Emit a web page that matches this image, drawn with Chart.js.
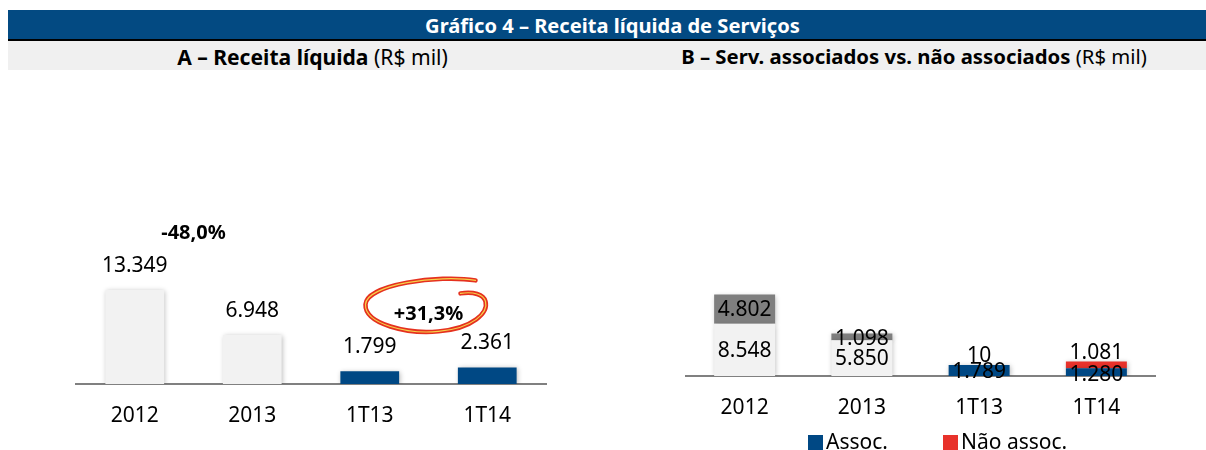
<!DOCTYPE html>
<html>
<head>
<meta charset="utf-8">
<script src="https://cdn.jsdelivr.net/npm/chart.js@4.4.1/dist/chart.umd.min.js"></script>
<style>
html,body{margin:0;padding:0;background:#fff;width:1206px;height:450px;overflow:hidden;font-family:'Noto Sans',sans-serif;}
#bar{position:absolute;left:8px;top:10px;width:1198px;height:29px;background:#034a82;}
#rule{position:absolute;left:8px;top:39px;width:1198px;height:2px;background:#000;}
#sub{position:absolute;left:8px;top:41px;width:1198px;height:29px;background:#f0f0f0;}
.t{position:absolute;white-space:nowrap;line-height:1;font-family:'Noto Sans',sans-serif;color:#000;}
#title{color:#fff;font-weight:bold;}
.b{font-weight:bold;}
#c1{position:absolute;left:0;top:80px;}
#c2{position:absolute;left:600px;top:80px;}
.lg{position:absolute;font:21px 'Noto Sans',sans-serif;color:#000;line-height:1;white-space:nowrap;}
.sq{position:absolute;width:15px;height:15px;}
</style>
</head>
<body>
<div id="bar"></div><div id="rule"></div><div id="sub"></div>
<div class="t" id="title">Gráfico 4 – Receita líquida de Serviços</div>
<div class="t" id="subA"><span class="b">A – Receita líquida</span> (R$ mil)</div>
<div class="t" id="subB"><span class="b">B – Serv. associados vs. não associados</span> (R$ mil)</div>
<canvas id="c1" width="600" height="370"></canvas>
<canvas id="c2" width="606" height="370"></canvas>
<div class="sq" id="sq1" style="left:808px;top:435px;background:#004884"></div>
<div class="lg" id="lg1" style="left:826px;">Assoc.</div>
<div class="sq" id="sq2" style="left:943px;top:435px;background:#e8322b"></div>
<div class="lg" id="lg2" style="left:961px;">Não assoc.</div>
<script>
// ---------- data ----------
const categories = ['2012', '2013', '1T13', '1T14'];
const receita = [13349, 6948, 1799, 2361];
const variacoes = ['-48,0%', '+31,3%'];
const assoc = [8548, 5850, 1789, 1280];
const naoAssoc = [4802, 1098, 10, 1081];
const legendLabels = ['Assoc.', 'Não assoc.'];

// ---------- styles ----------
const BLUE = '#004884', RED = '#e8322b', LIGHT = '#f2f2f2', DARK = '#7f7f7f';
const FONT = "'Noto Sans', sans-serif";

// header fitting
function place(id, cx, cy, w) {
  const el = document.getElementById(id);
  el.style.fontSize = '18px';
  const r = el.getBoundingClientRect();
  const fs = 18 * w / r.width;
  el.style.fontSize = fs + 'px';
  const r2 = el.getBoundingClientRect();
  el.style.left = (cx - r2.width / 2) + 'px';
  el.style.top = (cy - 0.531 * fs) + 'px';
}
place('title', 612.5, 26.5, 375);
place('subA', 312.5, 57, 271);
place('subB', 914, 57, 466);
['lg1','lg2'].forEach(id => { document.getElementById(id).style.top = (442 - 0.531 * 21) + 'px'; });

const fmt = v => String(v).replace(/\B(?=(\d{3})+(?!\d))/g, '.');

const shadow = {
  id: 'shadow',
  beforeDatasetsDraw(c) { const x = c.ctx; x.save(); x.shadowColor = 'rgba(0,0,0,0.28)'; x.shadowBlur = 5; x.shadowOffsetX = 1; x.shadowOffsetY = 1; },
  afterDatasetsDraw(c) { c.ctx.restore(); }
};

const topLabels = {
  id: 'topLabels',
  afterDatasetsDraw(chart) {
    const ctx = chart.ctx, meta = chart.getDatasetMeta(0);
    ctx.save();
    ctx.fillStyle = '#000'; ctx.textAlign = 'center'; ctx.textBaseline = 'middle';
    ctx.font = '21px ' + FONT;
    meta.data.forEach((b, i) => ctx.fillText(fmt(chart.data.datasets[0].data[i]), b.x, b.y - 24));
    ctx.font = 'bold 20px ' + FONT;
    const pairs = [[0, 1, 57], [2, 3, 53]];
    pairs.forEach((p, k) => {
      const a = meta.data[p[0]], b = meta.data[p[1]];
      const x = (a.x + b.x) / 2, y = Math.min(a.y, b.y) - p[2];
      ctx.fillText(variacoes[k], x, y);
      if (k === 1) {
        // hand-drawn highlight loop
        const path = () => {
          ctx.beginPath();
          ctx.moveTo(x + 47, y - 34);
          ctx.bezierCurveTo(x + 10, y - 40, x - 62, y - 30, x - 63, y - 10);
          ctx.bezierCurveTo(x - 64, y + 10, x - 20, y + 20, x + 10, y + 17);
          ctx.bezierCurveTo(x + 45, y + 14, x + 60, y - 2, x + 57, y - 13);
          ctx.bezierCurveTo(x + 55, y - 20, x + 45, y - 23, x + 32, y - 21);
        };
        ctx.lineCap = 'round';
        path(); ctx.strokeStyle = '#e5311f'; ctx.lineWidth = 4.5; ctx.stroke();
        path(); ctx.strokeStyle = '#f6d24a'; ctx.lineWidth = 1.2; ctx.stroke();
      }
    });
    ctx.restore();
  }
};

const segShift = [[0, 0, 0, 2], [0, 1, -10, -13]];
const segLabels = {
  id: 'segLabels',
  afterDatasetsDraw(chart) {
    const ctx = chart.ctx;
    ctx.save();
    ctx.fillStyle = '#000'; ctx.textAlign = 'center'; ctx.textBaseline = 'middle';
    ctx.font = '21px ' + FONT;
    chart.data.datasets.forEach((ds, i) => {
      chart.getDatasetMeta(i).data.forEach((b, j) => {
        const y = (b.y + b.base) / 2 + segShift[i][j] + 1;
        ctx.fillText(fmt(ds.data[j]), b.x, y);
      });
    });
    ctx.restore();
  }
};

const xAxis = (h) => ({
  z: 1,
  grid: { display: false, drawTicks: false },
  border: { display: true, color: '#808080', width: 2 },
  ticks: { color: '#000', font: { family: FONT, size: 21 }, padding: 19 },
  afterFit(s) { s.height = h; }
});

new Chart(document.getElementById('c1'), {
  type: 'bar',
  data: {
    labels: categories,
    datasets: [{
      data: receita,
      backgroundColor: [LIGHT, LIGHT, BLUE, BLUE],
      barPercentage: 0.5, categoryPercentage: 1
    }]
  },
  options: {
    responsive: false, animation: false, devicePixelRatio: 1,
    layout: { padding: { left: 76, right: 54, top: 0, bottom: 0 } },
    plugins: { legend: { display: false }, tooltip: { enabled: false } },
    scales: { x: xAxis(66), y: { display: false, min: 0, max: 43200 } }
  },
  plugins: [shadow, topLabels]
});

new Chart(document.getElementById('c2'), {
  type: 'bar',
  data: {
    labels: categories,
    datasets: [
      { label: legendLabels[0], data: assoc, backgroundColor: [LIGHT, LIGHT, BLUE, BLUE], barPercentage: 0.52, categoryPercentage: 1 },
      { label: legendLabels[1], data: naoAssoc, backgroundColor: [DARK, DARK, RED, RED], barPercentage: 0.52, categoryPercentage: 1 }
    ]
  },
  options: {
    responsive: false, animation: false, devicePixelRatio: 1,
    layout: { padding: { left: 86, right: 51, top: 0, bottom: 0 } },
    plugins: { legend: { display: false }, tooltip: { enabled: false } },
    scales: {
      x: Object.assign(xAxis(74), { stacked: true }),
      y: { display: false, stacked: true, min: 0, max: 48500 }
    }
  },
  plugins: [shadow, segLabels]
});
</script>
</body>
</html>
